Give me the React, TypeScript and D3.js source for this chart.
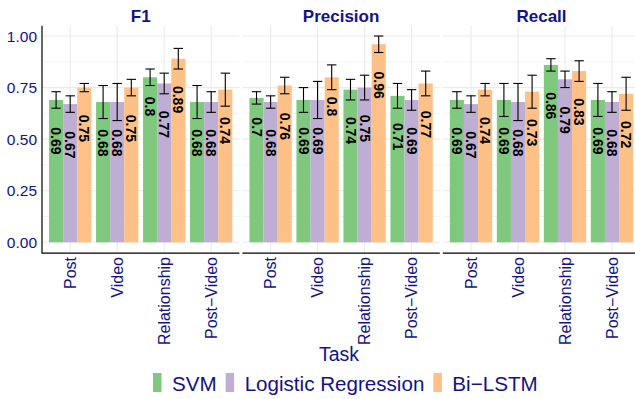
import React, { useRef, useEffect } from "react";
import * as d3 from "d3";

const tasks = ["Post", "Video", "Relationship", "Post\u2212Video"];
const models = ["SVM", "Logistic Regression", "Bi\u2212LSTM"];
const metrics = ["F1", "Precision", "Recall"];
const colors = ["#7fc97f", "#beaed4", "#fdc086"];

// values per metric, one array per model (order of tasks)
const f1Svm = [0.69, 0.68, 0.8, 0.68];
const f1Lr = [0.67, 0.68, 0.77, 0.68];
const f1Bi = [0.75, 0.75, 0.89, 0.74];
const f1SvmErr = [0.04, 0.08, 0.04, 0.08];
const f1LrErr = [0.04, 0.09, 0.05, 0.05];
const f1BiErr = [0.02, 0.04, 0.05, 0.08];

const precSvm = [0.7, 0.69, 0.74, 0.71];
const precLr = [0.68, 0.69, 0.75, 0.69];
const precBi = [0.76, 0.8, 0.96, 0.77];
const precSvmErr = [0.03, 0.06, 0.05, 0.06];
const precLrErr = [0.03, 0.09, 0.06, 0.05];
const precBiErr = [0.04, 0.06, 0.04, 0.06];

const recSvm = [0.69, 0.69, 0.86, 0.69];
const recLr = [0.67, 0.68, 0.79, 0.68];
const recBi = [0.74, 0.73, 0.83, 0.72];
const recSvmErr = [0.04, 0.08, 0.03, 0.08];
const recLrErr = [0.04, 0.09, 0.04, 0.05];
const recBiErr = [0.03, 0.08, 0.05, 0.08];

const yTicks = [0, 0.25, 0.5, 0.75, 1];
const yMinor = [0.125, 0.375, 0.625, 0.875];

const valueTable = [
  [f1Svm, f1Lr, f1Bi],
  [precSvm, precLr, precBi],
  [recSvm, recLr, recBi],
];
const errTable = [
  [f1SvmErr, f1LrErr, f1BiErr],
  [precSvmErr, precLrErr, precBiErr],
  [recSvmErr, recLrErr, recBiErr],
];

const NAVY = "#12128a";
const FONT = "'Liberation Sans', Arial, Helvetica, sans-serif";

export default function App() {
  const svgRef = useRef<SVGSVGElement>(null);

  useEffect(() => {
    const svg = d3.select(svgRef.current);
    svg.selectAll("*").remove();

    const left = 42;
    const panelW = 197.4;
    const gap = 3;
    const y = d3.scaleLinear().domain([-0.05, 1.05]).range([252.6, 25.7]);
    const labelSize = 14;

    metrics.forEach((metric, mi) => {
      const x0 = left + mi * (panelW + gap);
      const x = d3.scalePoint<string>().domain(tasks).range([x0, x0 + panelW]).padding(0.6);
      const step = x.step();
      const dodge = d3
        .scaleBand<string>()
        .domain(models)
        .range([-0.45 * step, 0.45 * step]);
      const g = svg.append("g");

      // grid
      g.selectAll(".minor")
        .data(yMinor)
        .join("line")
        .attr("x1", x0)
        .attr("x2", x0 + panelW)
        .attr("y1", (d) => y(d))
        .attr("y2", (d) => y(d))
        .attr("stroke", "#ebebeb")
        .attr("stroke-width", 0.6);
      g.selectAll(".major")
        .data(yTicks)
        .join("line")
        .attr("x1", x0)
        .attr("x2", x0 + panelW)
        .attr("y1", (d) => y(d))
        .attr("y2", (d) => y(d))
        .attr("stroke", "#ebebeb")
        .attr("stroke-width", 1.1);
      g.selectAll(".vgrid")
        .data(tasks)
        .join("line")
        .attr("x1", (d) => x(d)!)
        .attr("x2", (d) => x(d)!)
        .attr("y1", y(1.05))
        .attr("y2", y(-0.05))
        .attr("stroke", "#ebebeb")
        .attr("stroke-width", 1.1);

      // bars
      models.forEach((model, k) => {
        const vals = valueTable[mi][k];
        const errs = errTable[mi][k];
        const cx = (i: number) => x(tasks[i])! + dodge(model)! + dodge.bandwidth() / 2;
        g.append("g")
          .selectAll("rect")
          .data(vals)
          .join("rect")
          .attr("x", (d, i) => x(tasks[i])! + dodge(model)!)
          .attr("width", dodge.bandwidth())
          .attr("y", (d) => y(d))
          .attr("height", (d) => y(0) - y(d))
          .attr("fill", colors[k]);

        const capW = step * 0.2;
        const eb = g.append("g").attr("stroke", "black").attr("stroke-width", 1.1);
        vals.forEach((v, i) => {
          const c = cx(i);
          eb.append("line").attr("x1", c).attr("x2", c).attr("y1", y(v - errs[i])).attr("y2", y(v + errs[i]));
          eb.append("line").attr("x1", c - capW / 2).attr("x2", c + capW / 2).attr("y1", y(v - errs[i])).attr("y2", y(v - errs[i]));
          eb.append("line").attr("x1", c - capW / 2).attr("x2", c + capW / 2).attr("y1", y(v + errs[i])).attr("y2", y(v + errs[i]));
        });

        vals.forEach((v, i) => {
          const txt = String(v);
          const w = labelSize * (0.556 * txt.replace(".", "").length + 0.278);
          const sy = y(v) + 1.0 * w;
          g.append("text")
            .attr("transform", `translate(${cx(i)},${sy}) rotate(90)`)
            .attr("text-anchor", "start")
            .attr("dominant-baseline", "central")
            .attr("font-size", labelSize)
            .attr("font-weight", "bold")
            .attr("font-family", FONT)
            .attr("fill", "black")
            .text(txt);
        });
      });

      // bottom axis line
      g.append("line")
        .attr("x1", x0)
        .attr("x2", x0 + panelW)
        .attr("y1", y(-0.05) + 0.5)
        .attr("y2", y(-0.05) + 0.5)
        .attr("stroke", "black")
        .attr("stroke-width", 1.2);

      // x tick labels
      g.selectAll(".xlab")
        .data(tasks)
        .join("text")
        .attr("transform", (d) => `translate(${x(d)},257) rotate(-90)`)
        .attr("text-anchor", "end")
        .attr("dominant-baseline", "central")
        .attr("font-size", 16)
        .attr("font-family", FONT)
        .attr("fill", NAVY)
        .text((d) => d);

      // strip title
      g.append("text")
        .attr("x", x0 + panelW / 2)
        .attr("y", 21.5)
        .attr("text-anchor", "middle")
        .attr("font-size", 17)
        .attr("font-weight", "bold")
        .attr("font-family", FONT)
        .attr("fill", NAVY)
        .text(metric);
    });

    // left axis
    svg.append("line")
      .attr("x1", left)
      .attr("x2", left)
      .attr("y1", y(1.05))
      .attr("y2", y(-0.05) + 1)
      .attr("stroke", "black")
      .attr("stroke-width", 1.2);

    svg.append("g")
      .selectAll("text")
      .data(yTicks)
      .join("text")
      .attr("x", 37)
      .attr("y", (d) => y(d))
      .attr("text-anchor", "end")
      .attr("dominant-baseline", "central")
      .attr("font-size", 15.5)
      .attr("font-family", FONT)
      .attr("fill", NAVY)
      .text((d) => d3.format(".2f")(d));

    // axis title
    svg.append("text")
      .attr("x", 339)
      .attr("y", 361)
      .attr("text-anchor", "middle")
      .attr("font-size", 19.5)
      .attr("font-family", FONT)
      .attr("fill", NAVY)
      .text("Task");

    // legend
    const leg = svg.append("g");
    let lx = 153;
    models.forEach((m, k) => {
      leg.append("rect").attr("x", lx).attr("y", 373).attr("width", 8.5).attr("height", 19).attr("fill", colors[k]);
      const t = leg
        .append("text")
        .attr("x", lx + 19)
        .attr("y", 391)
        .attr("font-size", 20.6)
        .attr("font-family", FONT)
        .attr("fill", NAVY)
        .text(m);
      const tw = (t.node() as SVGTextElement).getComputedTextLength();
      lx = lx + 19 + tw + 9;
    });
  }, []);

  return (
    <svg
      ref={svgRef}
      width={635}
      height={399}
      style={{ position: "absolute", left: 0, top: 0, background: "white" }}
    />
  );
}
